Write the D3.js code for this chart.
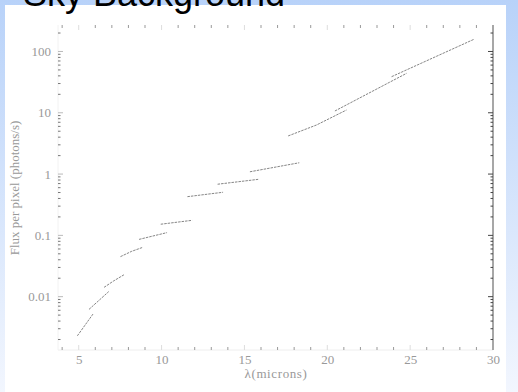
<!DOCTYPE html>
<html>
<head>
<meta charset="utf-8">
<script src="https://cdn.jsdelivr.net/npm/d3@7"></script>
<style>
  html, body { margin: 0; padding: 0; background: #fff; }
  svg { display: block; }
</style>
</head>
<body>
<svg id="chart" width="518" height="392"></svg>
<script>
// Sky background flux per detector pixel, measured band by band.
// Each band: [wavelength in microns, flux in photons/s]
const band1  = [[4.92, 0.0023], [5.86, 0.0052]];
const band2  = [[5.62, 0.0062], [6.81, 0.0121]];
const band3  = [[6.53, 0.0142], [7.10, 0.0180], [7.78, 0.0232]];
const band4  = [[7.52, 0.045], [8.20, 0.055], [8.88, 0.064]];
const band5  = [[8.64, 0.086], [10.33, 0.111]];
const band6  = [[9.95, 0.152], [11.84, 0.176]];
const band7  = [[11.56, 0.428], [13.71, 0.505]];
const band8  = [[13.38, 0.683], [15.83, 0.82]];
const band9  = [[15.33, 1.09], [18.31, 1.53]];
const band10 = [[17.64, 4.19], [19.35, 6.32], [21.16, 11.1]];
const band11 = [[20.46, 10.7], [24.79, 44.1]];
const band12 = [[23.88, 38.8], [28.85, 158]];
const bands = [band1, band2, band3, band4, band5, band6, band7, band8, band9, band10, band11, band12];

const xTicks = [5, 10, 15, 20, 25, 30];
const yTicks = [0.01, 0.1, 1, 10, 100];
const yTickLabels = ["0.01", "0.1", "1", "10", "100"];
const titleText = "Sky Background";
const xLabel = "\u03bb(microns)";
const yLabel = "Flux per pixel (photons/s)";

const svg = d3.select("#chart");
const W = 518, H = 392;

// slide background: blue fading down to white, with a white panel on top
const defs = svg.append("defs");
const grad = defs.append("linearGradient").attr("id", "bg").attr("x1", 0).attr("y1", 0).attr("x2", 0).attr("y2", 1);
grad.append("stop").attr("offset", "0%").attr("stop-color", "#b8d2f9");
grad.append("stop").attr("offset", "100%").attr("stop-color", "#f2f6fe");
svg.append("rect").attr("width", W).attr("height", H).attr("fill", "url(#bg)");
svg.append("rect").attr("x", 5).attr("y", 5).attr("width", 501).attr("height", H - 5).attr("fill", "#fff");

svg.append("text")
  .attr("x", 23).attr("y", 6)
  .attr("font-family", "Liberation Sans, Arial, sans-serif")
  .attr("font-size", 36)
  .attr("fill", "#000")
  .text(titleText);

// plot frame
const pL = 58, pR = 493, pT = 25, pB = 350;
const x = d3.scaleLinear().domain([3.75, 30]).range([pL, pR]);
const y = d3.scaleLog().domain([Math.pow(10, -2.87), Math.pow(10, 2.432)]).range([pB, pT]);

const frame = svg.append("g");
frame.append("line").attr("x1", pL).attr("x2", pR).attr("y1", pB).attr("y2", pB)
  .attr("stroke", "#eee").attr("stroke-width", 1);
frame.append("line").attr("x1", pL).attr("x2", pL).attr("y1", pT).attr("y2", pB)
  .attr("stroke", "#f2f2f2").attr("stroke-width", 1);
frame.append("line").attr("x1", pR).attr("x2", pR).attr("y1", pT).attr("y2", pB)
  .attr("stroke", "#8a8a8a").attr("stroke-width", 1.5);

// minor ticks every micron, major every five
const xMinor = d3.range(4, 31).filter(v => v % 5 !== 0);
const yMinor = [];
for (let e = -3; e <= 2; e++) for (let m = 2; m <= 9; m++) {
  const v = m * Math.pow(10, e);
  if (v >= y.domain()[0] && v <= y.domain()[1]) yMinor.push(v);
}
const tickColor = "#999";
function hTicks(vals, len, color) {
  vals.forEach(v => {
    frame.append("line").attr("x1", x(v)).attr("x2", x(v)).attr("y1", pB).attr("y2", pB - len)
      .attr("stroke", color).attr("stroke-width", 1);
    frame.append("line").attr("x1", x(v)).attr("x2", x(v)).attr("y1", pT).attr("y2", pT + len)
      .attr("stroke", color).attr("stroke-width", 1);
  });
}
function vTicks(vals, len, color) {
  vals.forEach(v => {
    frame.append("line").attr("x1", pL).attr("x2", pL + len).attr("y1", y(v)).attr("y2", y(v))
      .attr("stroke", color).attr("stroke-width", 1);
    frame.append("line").attr("x1", pR).attr("x2", pR - len).attr("y1", y(v)).attr("y2", y(v))
      .attr("stroke", "#444").attr("stroke-width", 1);
  });
}
hTicks(xMinor, 3, tickColor);
hTicks(xTicks.filter(v => v < 30), 5, "#ddd");
vTicks(yMinor, 2.5, "#777");
vTicks(yTicks, 5, "#bbb");

// axis labels through d3 axes, lines hidden
const labelFont = "Liberation Serif, DejaVu Serif, serif";
const xAxis = svg.append("g").attr("transform", `translate(0,${pB})`)
  .call(d3.axisBottom(x).tickValues(xTicks).tickSize(0).tickPadding(5).tickFormat(d3.format("d")));
const yAxis = svg.append("g").attr("transform", `translate(${pL},0)`)
  .call(d3.axisLeft(y).tickValues(yTicks).tickSize(0).tickPadding(7).tickFormat((d, i) => yTickLabels[i]));
[xAxis, yAxis].forEach(a => {
  a.select(".domain").remove();
  a.selectAll("text").attr("font-family", labelFont).attr("font-size", 13).attr("fill", "#999");
});

svg.append("text")
  .attr("x", 276).attr("y", 378)
  .attr("text-anchor", "middle")
  .attr("font-family", labelFont).attr("font-size", 13).attr("fill", "#999")
  .attr("letter-spacing", 0.6)
  .text(xLabel);
svg.append("text")
  .attr("transform", "translate(19,188) rotate(-90)")
  .attr("text-anchor", "middle")
  .attr("font-family", labelFont).attr("font-size", 13).attr("fill", "#999")
  .text(yLabel);

// the spectral bands
const line = d3.line().x(d => x(d[0])).y(d => y(d[1]));
svg.append("g").selectAll("path").data(bands).join("path")
  .attr("d", line)
  .attr("fill", "none")
  .attr("stroke", "#666")
  .attr("stroke-width", 0.8)
  .attr("stroke-dasharray", "2.5,1");
</script>
</body>
</html>
